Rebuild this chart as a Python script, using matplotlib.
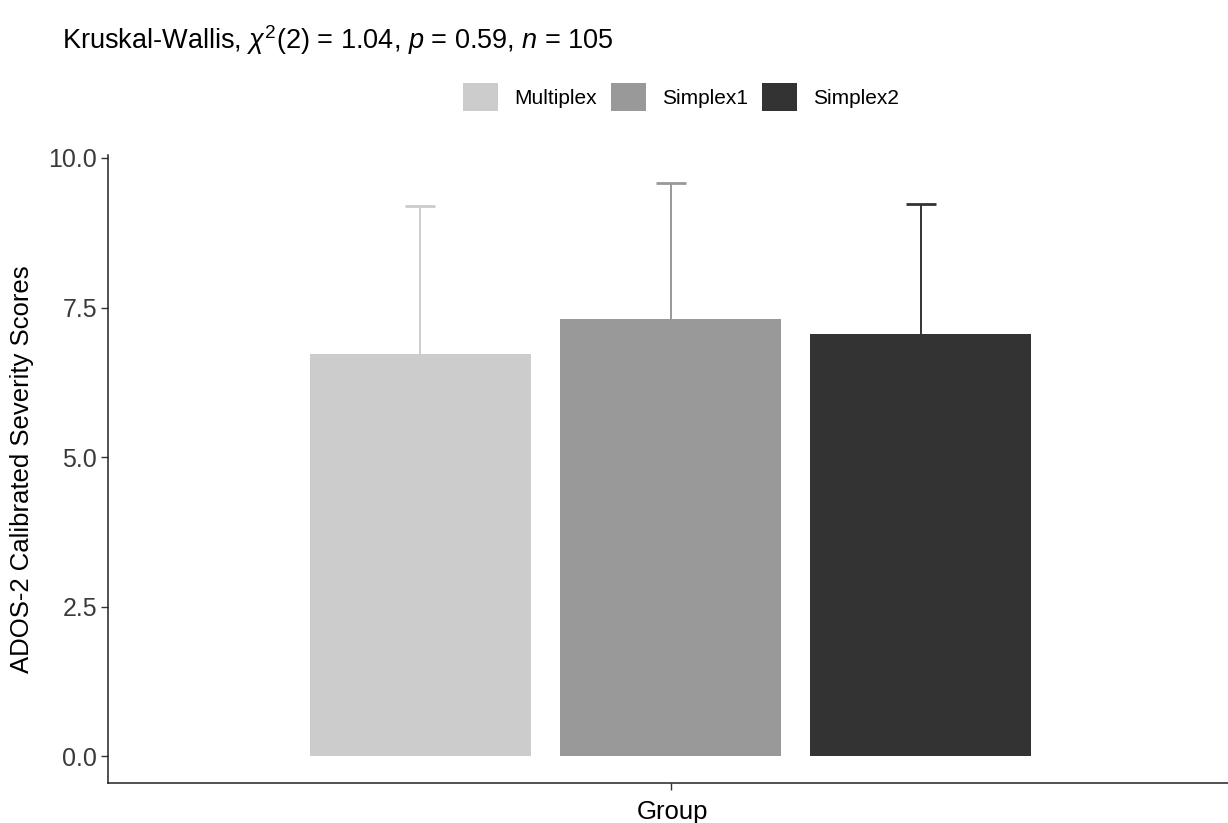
import matplotlib
matplotlib.use("Agg")
import matplotlib.pyplot as plt

groups = ["Multiplex", "Simplex1", "Simplex2"]
means = [6.73, 7.31, 7.06]
upper = [9.20, 9.58, 9.23]
colors = ["#CCCCCC", "#999999", "#333333"]
yticks = [0.0, 2.5, 5.0, 7.5, 10.0]

plt.rcParams['font.family'] = ['Liberation Sans', 'DejaVu Sans']
plt.rcParams['mathtext.fontset'] = 'custom'
plt.rcParams['mathtext.rm'] = 'Liberation Sans'
plt.rcParams['mathtext.it'] = 'Liberation Sans:italic'

fig = plt.figure(figsize=(12.28, 8.23), dpi=100)
W, H = 1228, 823
ax = fig.add_axes([108 / W, (H - 783) / H, 1130 / W, (783 - 155) / H])

offsets = [-0.3, 0.0, 0.3]
cap = 0.018
for i in range(len(groups)):
    x = 1 + offsets[i]
    ax.bar(x, means[i], width=0.265, color=colors[i], label=groups[i], zorder=2)
    # upper error bar only, line sits behind the bar
    ax.vlines(x, means[i], upper[i], color=colors[i], linewidth=1.4, zorder=1)
    ax.hlines(upper[i], x - cap, x + cap, color=colors[i], linewidth=2.0, zorder=1)

ax.set_xlim(0.325, 1.681)
ax.set_ylim(-0.45, 10.05)
ax.set_xticks([1])
ax.set_xticklabels([""])
ax.set_yticks(yticks)
ax.set_yticklabels(["%.1f" % t for t in yticks], fontsize=18, color="#3A3A3A")
ax.tick_params(axis='both', length=5, width=1, color="#333333", pad=3)
for s in ["top", "right"]:
    ax.spines[s].set_visible(False)
for s in ["left", "bottom"]:
    ax.spines[s].set_linewidth(1.1)
    ax.spines[s].set_color("#222222")

ax.set_ylabel("ADOS-2 Calibrated Severity Scores", fontsize=18.5, color="black", labelpad=10)
ax.set_xlabel("Group", fontsize=18.5, color="black", labelpad=4)

fig.text(62 / W, 1 - 40 / H,
         r"Kruskal-Wallis, $\chi^2$(2) = 1.04, $\it{p}$ = 0.59, $\it{n}$ = 105",
         fontsize=19.5, va="center", ha="left")

fig.legend(loc="center", bbox_to_anchor=(681 / W, 1 - 97 / H), ncol=3, frameon=False,
           fontsize=15, handlelength=1.68, handleheight=1.68, handletextpad=0.8,
           columnspacing=0.65)

fig.savefig("out.png", dpi=100)
